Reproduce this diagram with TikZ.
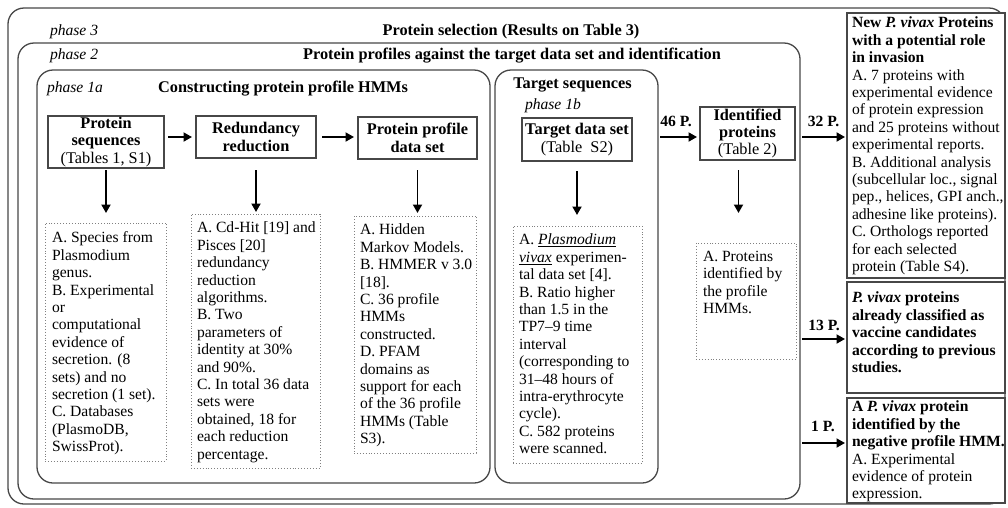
\documentclass[tikz,border=0pt]{standalone}
\usepackage{fontspec}
\setmainfont{Liberation Serif}
\usetikzlibrary{arrows.meta,calc}
\newcommand\fs{\fontsize{15.6}{17.4}\selectfont}
\newcommand\fsh{\fontsize{16.3}{17.4}\selectfont}
\begin{document}
\begin{tikzpicture}[x=1pt,y=-1pt,font=\fs,
  every node/.append style={inner sep=0pt, outer sep=0pt},
  rbox/.style={draw=black!72, line width=1.3pt, rounded corners=16pt},
  hbox/.style={draw=black!72, line width=1.4pt, align=center, font=\fsh},
  dbox/.style={draw=black!50, dotted, line width=0.9pt},
  txt/.style={align=left, anchor=north west},
  ttl/.style={font=\fsh\bfseries, anchor=base},
  ph/.style={font=\fs\itshape, anchor=base west},
  lab/.style={font=\fs\bfseries, anchor=base},
  arr/.style={-{Triangle[length=8.5pt,width=9pt]}, line width=1.9pt},
  rbx/.style={draw=black!72, line width=1.5pt, fill=white},
]
\useasboundingbox (0,0) rectangle (1008,507);

% containers
\node[rbox, minimum width=997pt, minimum height=496pt] (p3) at (506.5,256) {};
\node[rbox, minimum width=782pt, minimum height=456pt] (p2) at (409,271) {};
\node[rbox, minimum width=453pt, minimum height=413pt] (p1a) at (263.5,276.5) {};
\node[rbox, minimum width=163pt, minimum height=413pt] (ts) at (576.5,276.5) {};

% titles
\node[ph] (ph3) at (50,35.5) {phase 3};
\node[ttl] (t3) at (511,35.5) {Protein selection (Results on Table 3)};
\node[ph] (ph2) at (50,59) {phase 2};
\node[ttl] (t2) at (512,59) {Protein profiles against the target data set and identification};
\node[ph] (ph1a) at (47,92) {phase 1a};
\node[ttl] (t1a) at (283,92) {Constructing protein profile HMMs};
\node[ttl] (tts) at (572.5,88) {Target sequences};
\node[ph] (ph1b) at (525,109) {phase 1b};

% header boxes
\node[hbox, minimum width=116pt, minimum height=52pt] (ps) at (106,142) {\textbf{Protein}\\\textbf{sequences}\\(Tables 1, S1)};
\node[hbox, minimum width=120pt, minimum height=42pt, font=\fsh\bfseries] (rr) at (256,137) {Redundancy\\reduction};
\node[hbox, minimum width=119pt, minimum height=42pt, font=\fsh\bfseries] (pp) at (417.5,138) {Protein profile\\data set};
\node[hbox, minimum width=110pt, minimum height=43pt] (td) at (577,139.5) {\textbf{Target data set}\\(Table\ \ S2)};
\node[hbox, minimum width=95pt, minimum height=53pt] (ip) at (747.5,133.5) {\textbf{Identified}\\\textbf{proteins}\\(Table 2)};

% dotted boxes
\node[dbox, minimum width=121pt, minimum height=238pt, anchor=north west] (d1) at (45,223) {};
\node[dbox, minimum width=129pt, minimum height=254pt, anchor=north west] (d2) at (191,214) {};
\node[dbox, minimum width=122pt, minimum height=237pt, anchor=north west] (d3) at (354,216) {};
\node[dbox, minimum width=129pt, minimum height=237pt, anchor=north west] (d4) at (513,226) {};
\node[dbox, minimum width=100pt, minimum height=116pt, anchor=north west] (d5) at (696,243) {};

\node[txt] (d1t) at ($(d1.north west)+(7,9)$) {A. Species from\\Plasmodium\\genus.\\B. Experimental\\or\\computational\\evidence of\\secretion. (8\\sets) and no\\secretion (1 set).\\C. Databases\\(PlasmoDB,\\SwissProt).};
\node[txt] (d2t) at ($(d2.north west)+(6,8)$) {A. Cd-Hit [19] and\\Pisces [20]\\redundancy\\reduction\\algorithms.\\B. Two\\parameters of\\identity at 30\%\\and 90\%.\\C. In total 36 data\\sets were\\obtained, 18 for\\each reduction\\percentage.};
\node[txt] (d3t) at ($(d3.north west)+(6,8)$) {A. Hidden\\Markov Models.\\B. HMMER v 3.0\\{}[18].\\C. 36 profile\\HMMs\\constructed.\\D. PFAM\\domains as\\support for each\\of the 36 profile\\HMMs (Table\\S3).};
\node[txt] (d4t) at ($(d4.north west)+(6,8)$) {A. \underline{\textit{Plasmodium}}\\\underline{\textit{vivax}} experimen-\\tal data set [4].\\B. Ratio higher\\than 1.5 in the\\TP7–9 time\\interval\\(corresponding to\\31–48 hours of\\intra-erythrocyte\\cycle).\\C. 582 proteins\\were scanned.};
\node[txt] (d5t) at ($(d5.north west)+(7,8)$) {A. Proteins\\identified by\\the profile\\HMMs.};

% right result boxes
\node[rbx, minimum width=158pt, minimum height=265pt, anchor=north west] (bA) at (847,13) {};
\node[rbx, minimum width=158pt, minimum height=111pt, anchor=north west] (bB) at (847,282) {};
\node[rbx, minimum width=158pt, minimum height=105pt, anchor=north west] (bC) at (847,398) {};

\node[txt] (bAt) at ($(bA.north west)+(5,4)$) {\textbf{New \textit{P. vivax} Proteins}\\\textbf{with a potential role}\\\textbf{in invasion}\\A. 7 proteins with\\experimental evidence\\of protein expression\\and 25 proteins without\\experimental reports.\\B. Additional analysis\\(subcellular loc., signal\\pep., helices, GPI anch.,\\adhesine like proteins).\\C. Orthologs reported\\for each selected\\protein (Table S4).};
\node[txt, font=\fs\bfseries] (bBt) at ($(bB.north west)+(5,10)$) {\textit{P. vivax} proteins\\already classified as\\vaccine candidates\\according to previous\\studies.};
\node[txt] (bCt) at ($(bC.north west)+(5,3)$) {\textbf{A \textit{P. vivax} protein}\\\textbf{identified by the}\\\textbf{negative profile HMM.}\\A. Experimental\\evidence of protein\\expression.};

% arrows
\draw[arr, shorten <=4pt, shorten >=4pt] (ps.east |- rr.west) -- (rr.west);
\draw[arr, shorten <=6pt, shorten >=4pt] (rr.east) -- (rr.east -| pp.west);
\draw[arr, shorten <=2pt, shorten >=10pt] (ps.south) -- (ps.south |- d1.north);
\draw[arr, shorten <=12pt, shorten >=2pt] (rr.south) -- (rr.south |- d2.north);
\draw[arr, shorten <=11pt, shorten >=3pt] (pp.south) -- (pp.south |- d3.north);
\draw[arr, shorten <=10pt, shorten >=11pt] (td.south) -- (td.south |- d4.north);
\draw[arr, shorten <=10pt, shorten >=30pt] ([xshift=-9pt]ip.south) -- ([xshift=-9pt]ip.south |- d5.north);

\coordinate (c46) at ([yshift=-3.5pt]ip.west);
\coordinate (c32) at ([yshift=8.5pt]bA.west);
\coordinate (c13) at ([yshift=-1.5pt]bB.west);
\coordinate (c1) at ([yshift=7.5pt]bC.west);
\draw[arr, shorten <=2pt, shorten >=3pt] (c46 -| ts.east) -- (c46);
\draw[arr, shorten <=2pt, shorten >=2pt] (c32 -| p2.east) -- (c32);
\draw[arr, shorten <=2pt, shorten >=2pt] (c13 -| p2.east) -- (c13);
\draw[arr, shorten <=2pt, shorten >=2pt] (c1 -| p2.east) -- (c1);

\node[lab] (l46) at (676,126) {46 P.};
\node[lab] (l32) at (823.5,126) {32 P.};
\node[lab] (l13) at (824,330) {13 P.};
\node[lab] (l1) at (823,431) {1 P.};
\end{tikzpicture}
\end{document}
